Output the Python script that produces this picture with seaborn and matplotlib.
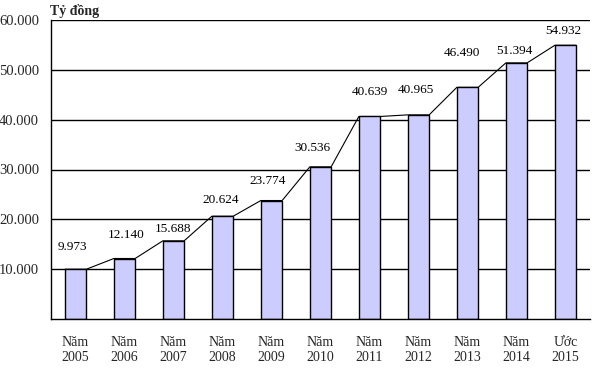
import pandas as pd
import matplotlib
matplotlib.use("Agg")
import matplotlib.pyplot as plt
import seaborn as sns

# === DADOS ===
categorias = ["Năm\n2005", "Năm\n2006", "Năm\n2007", "Năm\n2008", "Năm\n2009", "Năm\n2010",
              "Năm\n2011", "Năm\n2012", "Năm\n2013", "Năm\n2014", "Ước\n2015"]
valores = [9973, 12140, 15688, 20624, 23774, 30536, 40639, 40965, 46490, 51394, 54932]
y_ticks = [10000, 20000, 30000, 40000, 50000, 60000]

# deslocamento dos rótulos (pixels) como no original
label_dx = [-3, 2, 0, -2, -4, -8, 0, -3, -6, -2, -2]
label_dy = [22, 24, 12, 16, 20, 19, 24, 25, 34, 12, 14]

BAR_W = 0.435


def fmt(v):
    return f"{v:,}".replace(",", ".")


sns.set_style("white")
plt.rcParams["font.family"] = ["Liberation Serif", "DejaVu Serif"]
plt.rcParams["font.size"] = 10

df = pd.DataFrame({"cat": categorias, "valor": valores})

fig = plt.figure(figsize=(5.99, 3.73), dpi=100)
ax = fig.add_axes([51 / 599, 1 - 319 / 373, (590 - 51) / 599, (319 - 20) / 373])

# linha ligando os topos das barras (canto direito -> canto esquerdo da próxima)
xs, ys = [], []
for i, v in enumerate(valores):
    xs += [i - BAR_W / 2, i + BAR_W / 2]
    ys += [v, v]
ax.plot(xs, ys, color="black", lw=0.8, zorder=1)

sns.barplot(data=df, x="cat", y="valor", color="#CCCCFF", edgecolor="black",
            linewidth=1.0, width=BAR_W, saturation=1, ax=ax, zorder=2)

for i, v in enumerate(valores):
    ax.annotate(fmt(v), xy=(i, v), xytext=(label_dx[i], label_dy[i]),
                textcoords="offset pixels", ha="center", va="center",
                fontsize=9.5, color="black")

ax.set_xlim(-0.5, len(valores) - 0.5)
ax.set_ylim(0, 60000)
ax.set_yticks(y_ticks)
ax.set_yticklabels([fmt(t) for t in y_ticks])
ax.set_xlabel("")
ax.set_ylabel("")

# ticks do eixo x entre categorias
ax.set_xticks(range(len(valores)))
ax.set_xticklabels(categorias, linespacing=1.2)
ax.set_xticks([i - 0.5 for i in range(len(valores) + 1)], minor=True)
ax.tick_params(axis="x", which="major", length=0, pad=12, labelsize=10)
ax.tick_params(axis="x", which="minor", length=3.5, width=1, color="black", direction="out")
ax.tick_params(axis="y", length=4, width=1, color="black", direction="out", pad=4.5, labelsize=10.5)

ax.grid(axis="y", color="black", lw=1)
ax.set_axisbelow(True)
for s in ["top", "right"]:
    ax.spines[s].set_visible(False)
for s in ["left", "bottom"]:
    ax.spines[s].set_color("black")
    ax.spines[s].set_linewidth(1)

fig.text(50 / 599, 1 - 11 / 373, "Tỷ đồng", fontsize=10, fontweight="bold",
         ha="left", va="center")

fig.savefig("out.png", dpi=100)
